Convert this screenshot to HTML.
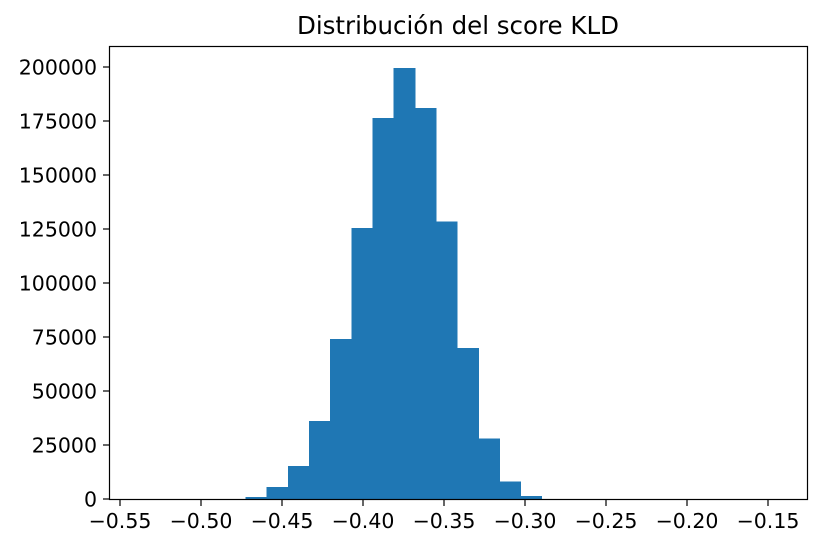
<!DOCTYPE html>
<html><head><meta charset="utf-8"><style>
body{margin:0;background:#fff;}
svg{display:block;font-family:"DejaVu Sans","Liberation Sans",sans-serif;}
</style></head><body>
<svg id="chart" width="821" height="549">
<text x="458" y="34" font-size="24.5" text-anchor="middle" fill="#000">Distribución del score KLD</text>
<g id="bars" shape-rendering="crispEdges"></g>
<g id="xaxis"></g>
<g id="yaxis"></g>
<rect x="109.5" y="46.5" width="698" height="453" fill="none" stroke="#000" stroke-width="1.2"/>
</svg>
<script>
const binStart = -0.5378;
const binWidth = 0.013056;
const counts = [0,0,0,0,0,1000,5500,15200,36000,74000,125500,176500,199500,181000,128500,70000,28000,8000,1500,0,0,0,0,0,0,0,0,0,0,0];
const xTicks = [-0.55,-0.50,-0.45,-0.40,-0.35,-0.30,-0.25,-0.20,-0.15];
const xTickLabels = ["−0.55","−0.50","−0.45","−0.40","−0.35","−0.30","−0.25","−0.20","−0.15"];
const yTicks = [0,25000,50000,75000,100000,125000,150000,175000,200000];
const yTickLabels = ["0","25000","50000","75000","100000","125000","150000","175000","200000"];
const ns="http://www.w3.org/2000/svg";
function xs(v){return 363+(v+0.40)*1620;}
function ys(v){return 499-v*(432/200000);}
const bars=document.getElementById('bars');
counts.forEach((c,i)=>{
  if(c<=0)return;
  const x0=xs(binStart+i*binWidth), x1=xs(binStart+(i+1)*binWidth);
  const r=document.createElementNS(ns,'rect');
  r.setAttribute('x',x0);r.setAttribute('width',x1-x0+0.6);
  r.setAttribute('y',ys(c));r.setAttribute('height',499-ys(c));
  r.setAttribute('fill','#1f77b4');
  
  
  bars.appendChild(r);
});
const xa=document.getElementById('xaxis');
xTicks.forEach((t,i)=>{
  const x=xs(t);
  const l=document.createElementNS(ns,'line');
  l.setAttribute('x1',x);l.setAttribute('x2',x);l.setAttribute('y1',499.5);l.setAttribute('y2',506);
  l.setAttribute('stroke','#000');l.setAttribute('stroke-width','1.2');
  
  
  xa.appendChild(l);
  const tx=document.createElementNS(ns,'text');
  tx.setAttribute('x',x);tx.setAttribute('y',528);tx.setAttribute('font-size','20.5');tx.setAttribute('text-anchor','middle');
  tx.textContent=xTickLabels[i];
  
  
  xa.appendChild(tx);
});
const ya=document.getElementById('yaxis');
yTicks.forEach((t,i)=>{
  const y=ys(t);
  const l=document.createElementNS(ns,'line');
  l.setAttribute('x1',103);l.setAttribute('x2',109.5);l.setAttribute('y1',y);l.setAttribute('y2',y);
  l.setAttribute('stroke','#000');l.setAttribute('stroke-width','1.2');
  
  
  ya.appendChild(l);
  const tx=document.createElementNS(ns,'text');
  tx.setAttribute('x',97);tx.setAttribute('y',y+7.5);tx.setAttribute('font-size','20.5');tx.setAttribute('text-anchor','end');
  tx.textContent=yTickLabels[i];
  
  
  ya.appendChild(tx);
});
</script>
</body></html>
